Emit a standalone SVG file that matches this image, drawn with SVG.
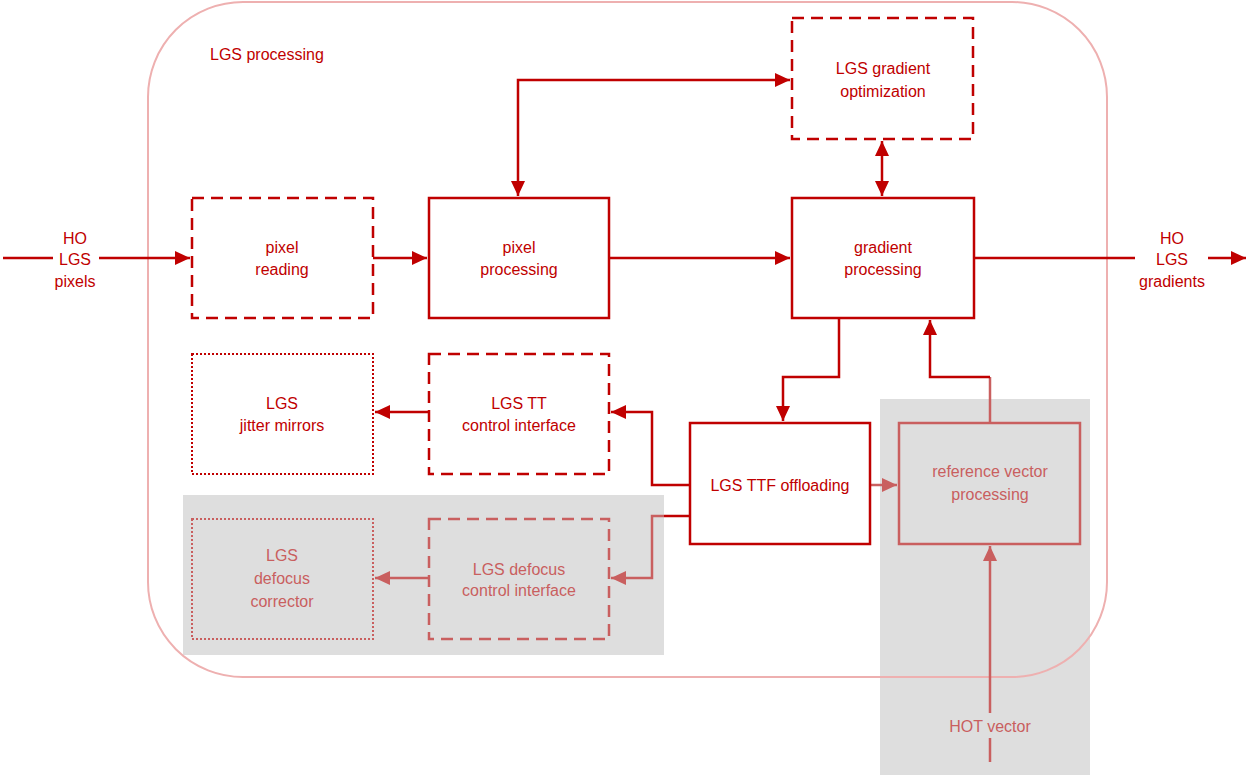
<svg xmlns="http://www.w3.org/2000/svg" width="1246" height="777" viewBox="0 0 1246 777">
  <defs>
    <marker id="arr" markerUnits="userSpaceOnUse" markerWidth="16" markerHeight="14" refX="15" refY="7" orient="auto-start-reverse">
      <path d="M0,0 L15,7 L0,14 z" fill="#c00000"/>
    </marker>
    <marker id="arrFade" markerUnits="userSpaceOnUse" markerWidth="16" markerHeight="14" refX="15" refY="7" orient="auto-start-reverse">
      <path d="M0,0 L15,7 L0,14 z" fill="#c95f5f"/>
    </marker>
    <style>
      text { font-family: "Liberation Sans", Arial, sans-serif; font-size: 16px; fill: #c00000; text-anchor: middle; }
      text.fade { fill: #c95f5f; }
      text.title { text-anchor: start; }
      .box { fill: #ffffff; stroke: #c00000; stroke-width: 2.5; }
      .dash { fill: none; stroke: #c00000; stroke-width: 2.5; stroke-dasharray: 12 7; }
      .dot { fill: none; stroke: #c00000; stroke-width: 2; stroke-dasharray: 2 2; }
      .fadebox { fill: none; stroke: #c95f5f; stroke-width: 2.5; }
      .fadedash { fill: none; stroke: #c95f5f; stroke-width: 2.5; stroke-dasharray: 12 7; }
      .fadedot { fill: none; stroke: #c95f5f; stroke-width: 2; stroke-dasharray: 2 2; }
      .conn { fill: none; stroke: #c00000; stroke-width: 2.5; }
      .connFade { fill: none; stroke: #c95f5f; stroke-width: 2.5; }
      .gray { fill: #dedede; }
    </style>
  </defs>

  <!-- shaded areas -->
  <rect class="gray" x="183" y="495" width="481" height="160"/>
  <rect class="gray" x="880" y="399" width="210" height="376"/>

  <!-- processing boundary -->
  <g id="lgs-processing">
    <rect x="148" y="2" width="959" height="675" rx="95" ry="95" fill="none" stroke="#eeb0b0" stroke-width="2"/>
    <text class="title" x="210" y="60">LGS processing</text>
  </g>

  <!-- connectors -->
  <g id="connectors">
    <path class="conn" d="M3,258 H53"/>
    <path class="conn" d="M99,258 H190" marker-end="url(#arr)"/>
    <path class="conn" d="M373,258 H427" marker-end="url(#arr)"/>
    <path class="conn" d="M609,258 H790" marker-end="url(#arr)"/>
    <path class="conn" d="M974,258 H1135"/>
    <path class="conn" d="M1208,258 H1246" marker-end="url(#arr)"/>
    <path class="conn" d="M518,196 V80 H790" marker-start="url(#arr)" marker-end="url(#arr)"/>
    <path class="conn" d="M882,141 V196" marker-start="url(#arr)" marker-end="url(#arr)"/>
    <path class="conn" d="M839,318 V377 H783 V421" marker-end="url(#arr)"/>
    <path class="connFade" d="M990,423 V377"/>
    <path class="conn" d="M990,377 H930 V320" marker-end="url(#arr)"/>
    <path class="conn" d="M690,485 H652 V412 H611" marker-end="url(#arr)"/>
    <path class="conn" d="M429,412 H375" marker-end="url(#arr)"/>
    <path class="conn" d="M690,516 H664"/>
    <path class="connFade" d="M664,516 H652 V578 H611" marker-end="url(#arrFade)"/>
    <path class="connFade" d="M429,578 H375" marker-end="url(#arrFade)"/>
    <path class="connFade" d="M870,485 H897" marker-end="url(#arrFade)"/>
    <path class="connFade" d="M990,762 V738"/>
    <path class="connFade" d="M990,713 V546" marker-end="url(#arrFade)"/>
  </g>

  <!-- external labels -->
  <g id="input-label">
    <text x="75" y="244">HO</text>
    <text x="75" y="265">LGS</text>
    <text x="75" y="287">pixels</text>
  </g>
  <g id="output-label">
    <text x="1172" y="244">HO</text>
    <text x="1172" y="265">LGS</text>
    <text x="1172" y="287">gradients</text>
  </g>
  <g id="hot-vector">
    <text class="fade" x="990" y="732">HOT vector</text>
  </g>

  <!-- nodes -->
  <g id="pixel-reading">
    <rect class="dash" x="192" y="198" width="181" height="120"/>
    <text x="282" y="253">pixel</text>
    <text x="282" y="275">reading</text>
  </g>
  <g id="pixel-processing">
    <rect class="box" x="429" y="198" width="180" height="120"/>
    <text x="519" y="253">pixel</text>
    <text x="519" y="275">processing</text>
  </g>
  <g id="gradient-processing">
    <rect class="box" x="792" y="198" width="182" height="120"/>
    <text x="883" y="253">gradient</text>
    <text x="883" y="275">processing</text>
  </g>
  <g id="gradient-optimization">
    <rect class="dash" x="792" y="18" width="181" height="121"/>
    <text x="883" y="74">LGS gradient</text>
    <text x="883" y="97">optimization</text>
  </g>
  <g id="jitter-mirrors">
    <rect class="dot" x="192" y="354" width="181" height="120"/>
    <text x="282" y="409">LGS</text>
    <text x="282" y="431">jitter mirrors</text>
  </g>
  <g id="tt-control">
    <rect class="dash" x="429" y="354" width="180" height="120"/>
    <text x="519" y="409">LGS TT</text>
    <text x="519" y="431">control interface</text>
  </g>
  <g id="ttf-offloading">
    <rect class="box" x="690" y="423" width="180" height="121"/>
    <text x="780" y="491">LGS TTF offloading</text>
  </g>
  <g id="reference-vector">
    <rect class="fadebox" x="899" y="423" width="181" height="121"/>
    <text class="fade" x="990" y="477">reference vector</text>
    <text class="fade" x="990" y="500">processing</text>
  </g>
  <g id="defocus-corrector">
    <rect class="fadedot" x="192" y="519" width="181" height="120"/>
    <text class="fade" x="282" y="561">LGS</text>
    <text class="fade" x="282" y="584">defocus</text>
    <text class="fade" x="282" y="607">corrector</text>
  </g>
  <g id="defocus-control">
    <rect class="fadedash" x="429" y="519" width="180" height="120"/>
    <text class="fade" x="519" y="575">LGS defocus</text>
    <text class="fade" x="519" y="596">control interface</text>
  </g>
</svg>
